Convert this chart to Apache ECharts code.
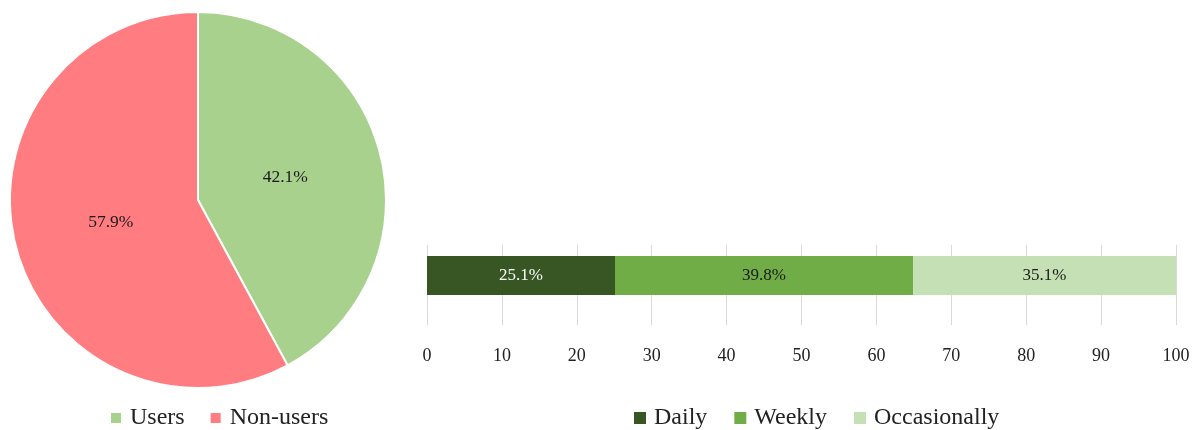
<!DOCTYPE html>
<html><head><meta charset="utf-8">
<script src="https://cdn.jsdelivr.net/npm/echarts@6/dist/echarts.min.js"></script>
<style>html,body{margin:0;padding:0;background:#fff}#c{width:1198px;height:430px}</style>
</head><body><div id="c"></div>
<script>
const pieNames = ['Users', 'Non-users'];
const pieValues = [42.1, 57.9];
const pieColors = ['#A9D18E', '#FF7C80'];
const freqNames = ['Daily', 'Weekly', 'Occasionally'];
const freqValues = [25.1, 39.8, 35.1];
const freqColors = ['#375623', '#70AD47', '#C5E0B4'];
const freqLabelColors = ['#ffffff', '#1a1a1a', '#1a1a1a'];
const xTicks = [0, 10, 20, 30, 40, 50, 60, 70, 80, 90, 100];

const font = "'Liberation Serif', 'DejaVu Serif', serif";
const pct = p => p.value.toFixed(1) + '%';
const chart = echarts.init(document.getElementById('c'));
chart.setOption({
  animation: false,
  textStyle: { fontFamily: font },
  grid: [
    { left: 427, right: 22, top: 245, height: 80 },
    { left: 427, right: 22, top: 256, height: 39 }
  ],
  xAxis: [
    { gridIndex: 0, type: 'value', min: xTicks[0], max: xTicks[xTicks.length - 1], interval: 10,
      axisLine: { show: false }, axisTick: { show: false },
      splitLine: { show: true, lineStyle: { color: '#D9D9D9', width: 1 } },
      axisLabel: { color: '#222', fontSize: 18, fontFamily: font, margin: 22 } },
    { gridIndex: 1, type: 'value', min: 0, max: 100, show: false }
  ],
  yAxis: [
    { gridIndex: 0, type: 'category', data: [''], show: false },
    { gridIndex: 1, type: 'category', data: ['Frequency'], show: false }
  ],
  legend: [
    { data: pieNames, left: 104, top: 401, itemWidth: 12, itemHeight: 12, itemGap: 24,
      icon: 'rect', textStyle: { fontSize: 24, color: '#222', fontFamily: font, padding: [0, 0, 0, 3] } },
    { data: freqNames, left: 629, top: 401, itemWidth: 12, itemHeight: 12, itemGap: 27,
      icon: 'rect', textStyle: { fontSize: 24, color: '#222', fontFamily: font, padding: [0, 0, 0, 3] } }
  ],
  series: [
    { type: 'pie', name: 'Use', center: [198, 200], radius: 188, startAngle: 90, clockwise: true,
      data: pieNames.map((n, i) => ({ name: n, value: pieValues[i], itemStyle: { color: pieColors[i] } })),
      itemStyle: { borderColor: '#fff', borderWidth: 2 },
      label: { show: false }, labelLine: { show: false }, emphasis: { disabled: true } },
    { type: 'pie', name: 'UseLabels', center: [198, 200], radius: 174, startAngle: 90, clockwise: true,
      silent: true, legendHoverLink: false, z: 3,
      data: pieNames.map((n, i) => ({ name: n, value: pieValues[i] })),
      itemStyle: { color: 'rgba(0,0,0,0)', borderWidth: 0 },
      label: { show: true, position: 'inside', formatter: pct, color: '#1a1a1a', fontSize: 17.5, fontFamily: font },
      labelLine: { show: false }, emphasis: { disabled: true } }
  ].concat(freqNames.map((n, i) => ({
    type: 'bar', name: n, stack: 'f', xAxisIndex: 1, yAxisIndex: 1, barWidth: 39,
    itemStyle: { color: freqColors[i] },
    data: [freqValues[i]],
    label: { show: true, position: 'inside', formatter: pct,
      color: freqLabelColors[i], fontSize: 17, fontFamily: font },
    emphasis: { disabled: true }
  })))
});
</script></body></html>
